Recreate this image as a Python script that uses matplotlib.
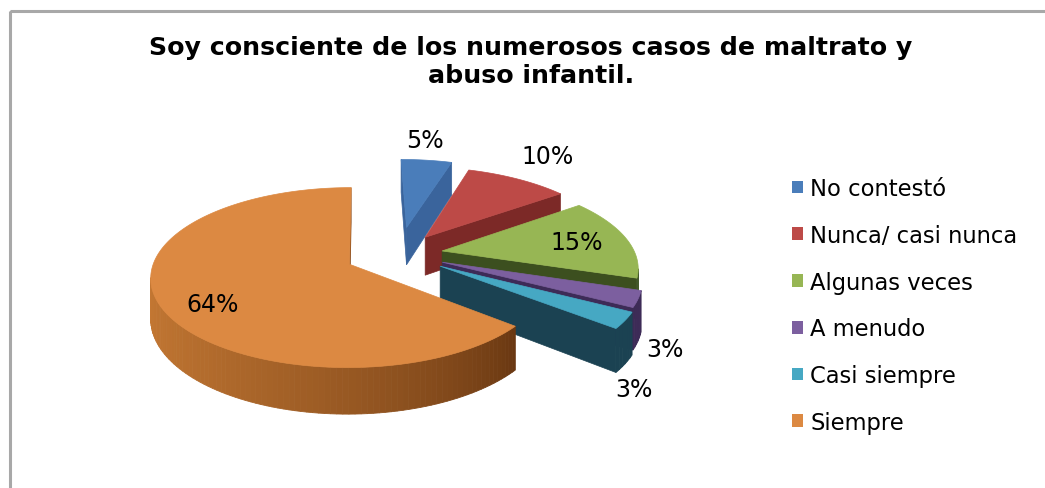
import numpy as np
import matplotlib.pyplot as plt
from matplotlib.patches import Polygon, Rectangle, Patch
from matplotlib.colors import to_rgb

# encuesta: "Soy consciente de los numerosos casos de maltrato y abuso infantil."
labels = ['No contestó', 'Nunca/ casi nunca', 'Algunas veces', 'A menudo', 'Casi siempre', 'Siempre']
values = [5, 10, 15, 3, 3, 64]

top_colors = ['#4A7DBA', '#BD4A47', '#97B654', '#7C5F9F', '#46A8C3', '#DC8942']
face_colors = ['#3A649C', '#7C2927', '#3C4F1F', '#3D2B57', '#1B4252', '#8A4A18']
wall_colors = ['#3A649C', '#7C2927', '#43592A', '#3D2B57', '#1B4252', '#C47833']
wall_dark = '#6A3812'

# pie geometry (pixels) and explosion of each slice
OX, OY = 362, 255
XC = -0.19
RX, RY = 193, 85
K = 0.145          # perspective
DEPTH = 39
explode = [0.33, 0.25, 0.23, 0.24, 0.25, 0.28]


def proj(X, Y, Z=0.0):
    X = np.asarray(X, float)
    Y = np.asarray(Y, float)
    Z = np.asarray(Z, float)
    p = 1.0 / (1.0 + K * Y)
    return OX + RX * (X - XC) * p, OY - (RY * Y + DEPTH * Z) * p


def faces_viewer(xs, ys):
    # negative signed area (y down) = face turned to the viewer
    return 0.5 * np.sum(xs * np.roll(ys, -1) - np.roll(xs, -1) * ys) < 0


def mix(c1, c2, t):
    a, b = np.array(to_rgb(c1)), np.array(to_rgb(c2))
    return tuple(a + (b - a) * t)


fig = plt.figure(figsize=(10.45, 4.89), dpi=100)
ax = fig.add_axes([0, 0, 1, 1])
ax.set_xlim(0, 1045)
ax.set_ylim(489, 0)
ax.axis('off')

# chart frame (cut by the image on the right and bottom)
ax.add_patch(Rectangle((10, 12), 1100, 600, fill=False, edgecolor='#A8A8A8', lw=2.2))

total = sum(values)
starts = np.cumsum([0] + values[:-1]) / total * 360
ends = np.cumsum(values) / total * 360

for i in range(len(values)):
    t1, t2 = starts[i], ends[i]
    mid = np.radians((t1 + t2) / 2)
    ex, ey = explode[i] * np.sin(mid), explode[i] * np.cos(mid)

    # cut faces
    r1 = np.radians(t1)
    r2 = np.radians(t2)
    a1 = (ex + np.sin(r1), ey + np.cos(r1))
    a2 = (ex + np.sin(r2), ey + np.cos(r2))
    for quad in (([ex, a1[0], a1[0], ex], [ey, a1[1], a1[1], ey], [0, 0, -1, -1]),
                 ([a2[0], ex, ex, a2[0]], [a2[1], ey, ey, a2[1]], [0, 0, -1, -1])):
        xs, ys = proj(*quad)
        if faces_viewer(xs, ys):
            ax.add_patch(Polygon(np.column_stack([xs, ys]), closed=True,
                                 facecolor=face_colors[i], edgecolor=face_colors[i], lw=0.5))

    # outer wall
    tw = np.radians(np.linspace(t1, t2, max(3, int((t2 - t1) / 1.5))))
    for a, b in zip(tw[:-1], tw[1:]):
        px = [ex + np.sin(a), ex + np.sin(b)]
        py = [ey + np.cos(a), ey + np.cos(b)]
        xs, ys = proj([px[0], px[1], px[1], px[0]], [py[0], py[1], py[1], py[0]], [0, 0, -1, -1])
        if not faces_viewer(xs, ys):
            continue
        if i == len(values) - 1:
            t = np.clip((270 - np.degrees(a + b) / 2) / 140, 0, 1) ** 1.6
            col = mix(wall_colors[i], wall_dark, t)
        else:
            col = wall_colors[i]
        ax.add_patch(Polygon(np.column_stack([xs, ys]), closed=True,
                             facecolor=col, edgecolor=col, lw=0.6))

    # top surface
    th = np.radians(np.linspace(t1, t2, 200))
    xs, ys = proj(np.r_[ex, ex + np.sin(th)], np.r_[ey, ey + np.cos(th)])
    ax.add_patch(Polygon(np.column_stack([xs, ys]), closed=True,
                         facecolor=top_colors[i], edgecolor=top_colors[i], lw=0.5))

# data labels
label_xy = [(425, 141), (548, 157), (577, 243), (665, 350), (634, 390), (213, 305)]
for v, (lx, ly) in zip(values, label_xy):
    ax.text(lx, ly, f'{v}%', ha='center', va='center', fontsize=17, color='black')

ax.text(531, 62, 'Soy consciente de los numerosos casos de maltrato y\nabuso infantil.',
        ha='center', va='center', fontsize=18.2, fontweight='bold', linespacing=1.25)

handles = [Patch(facecolor=c, edgecolor='none') for c in top_colors]
ax.legend(handles, labels, loc='upper left', bbox_to_anchor=(792 / 1045, 1 - 178 / 489),
          frameon=False, fontsize=16.3, handlelength=0.49, handleheight=0.49,
          handletextpad=0.31, labelspacing=1.05, borderpad=0, borderaxespad=0)

fig.savefig('out.png', dpi=100)
